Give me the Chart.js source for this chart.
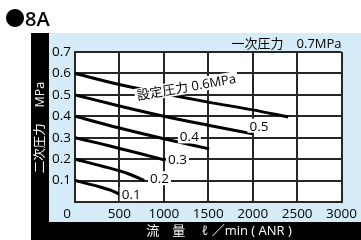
<!DOCTYPE html>
<html><head><meta charset="utf-8">
<script src="https://cdn.jsdelivr.net/npm/chart.js@4/dist/chart.umd.min.js"></script>
<style>html,body{margin:0;padding:0;background:#fff;overflow:hidden}#wrap{width:361px;height:240px;position:relative}</style>
</head><body><div id="wrap"><canvas id="c" width="361" height="240"></canvas></div>
<script>
// ---- data ----
const xTicks = [0, 500, 1000, 1500, 2000, 2500, 3000];
const yTicks = [0, 0.1, 0.2, 0.3, 0.4, 0.5, 0.6, 0.7];
const setPressures = ['0.6', '0.5', '0.4', '0.3', '0.2', '0.1'];

const flow06 = [0, 500, 1000, 1500, 2000, 2400];
const p06    = [0.6, 0.548, 0.505, 0.466, 0.43, 0.397];
const flow05 = [0, 500, 1000, 1500, 2000];
const p05    = [0.5, 0.448, 0.40, 0.358, 0.318];
const flow04 = [0, 500, 1000, 1510];
const p04    = [0.4, 0.345, 0.295, 0.248];
const flow03 = [0, 250, 500, 750, 1020];
const p03    = [0.3, 0.276, 0.25, 0.224, 0.195];
const flow02 = [0, 300, 600, 780];
const p02    = [0.2, 0.168, 0.132, 0.1];
const flow01 = [0, 250, 400, 520];
const p01    = [0.1, 0.074, 0.055, 0.032];

// curve label anchors (data units)
const labelFlow = [1253, 2070, 1287, 1153, 951, 632];
const labelP    = [0.537, 0.356, 0.306, 0.199, 0.111, 0.037];
const labelText = ['設定圧力 0.6MPa', '0.5', '0.4', '0.3', '0.2', '0.1'];

const title = '●8A';
const inletText = '一次圧力　0.7MPa';
const yTitle = '二次圧力　 MPa';
const xTitle = '流　量　 ℓ ／min ( ANR )';

const series = [[flow06, p06], [flow05, p05], [flow04, p04], [flow03, p03], [flow02, p02], [flow01, p01]];

const FONT = '"Open Sans", "Noto Sans CJK JP", sans-serif';
Chart.defaults.font.family = FONT;

const deco = {
  id: 'deco',
  beforeDraw(chart) {
    const ctx = chart.ctx, a = chart.chartArea;
    ctx.save();
    ctx.fillStyle = '#fff'; ctx.fillRect(0, 0, chart.width, chart.height);
    ctx.fillStyle = '#000'; ctx.fillRect(31, 33, chart.width - 31, chart.height - 33);
    ctx.fillStyle = '#d5ebf8'; ctx.fillRect(49, 33, chart.width - 49, 189);
    ctx.fillStyle = '#fff'; ctx.fillRect(a.left, a.top, a.right - a.left, a.bottom - a.top);
    ctx.restore();
  },
  afterDatasetsDraw(chart) {
    const ctx = chart.ctx, xs = chart.scales.x, ys = chart.scales.y;
    ctx.save();
    ctx.textAlign = 'center'; ctx.textBaseline = 'middle';
    labelText.forEach((t, i) => {
      ctx.font = (i === 0 ? '13px ' : '13.5px ') + FONT;
      const px = xs.getPixelForValue(labelFlow[i]), py = ys.getPixelForValue(labelP[i]);
      const w = ctx.measureText(t).width + 4;
      ctx.save();
      ctx.translate(px, py);
      if (i === 0) ctx.rotate(-10 * Math.PI / 180);
      ctx.fillStyle = '#fff'; ctx.fillRect(-w / 2, -7, w, 14);
      ctx.fillStyle = '#000'; ctx.fillText(t, 0, 1);
      ctx.restore();
    });
    ctx.restore();
  },
  afterDraw(chart) {
    const ctx = chart.ctx, a = chart.chartArea;
    ctx.save();
    ctx.fillStyle = '#000';
    ctx.textBaseline = 'middle';
    ctx.textAlign = 'left';
    ctx.font = '600 20px ' + FONT;
    ctx.fillText(title, 5, 20);
    ctx.textAlign = 'right';
    ctx.font = '13px ' + FONT;
    ctx.fillText(inletText, a.right, 44);
    // origin label
    ctx.font = '13.5px ' + FONT;
    ctx.fillText(String(xTicks[0]), a.left - 4, 214);
    // axis titles
    ctx.fillStyle = '#fff';
    ctx.textAlign = 'center';
    ctx.font = '13px ' + FONT;
    ctx.fillText(xTitle, 219, 231);
    ctx.save();
    ctx.translate(40, 127.5);
    ctx.rotate(-Math.PI / 2);
    ctx.font = '12.5px ' + FONT;
    ctx.fillText(yTitle, 0, 0);
    ctx.restore();
    ctx.restore();
  }
};

const gridOpts = { color: '#262626', lineWidth: 2, drawTicks: false };
const borderOpts = { display: true, color: '#262626', width: 2 };

new Chart(document.getElementById('c'), {
  type: 'line',
  data: {
    datasets: series.map((s, i) => ({
      label: setPressures[i],
      data: s[0].map((x, j) => ({ x: x, y: s[1][j] })),
      borderColor: '#000',
      borderWidth: 3,
      pointRadius: 0,
      fill: false,
      cubicInterpolationMode: 'monotone'
    }))
  },
  options: {
    responsive: false,
    animation: false,
    devicePixelRatio: 1,
    layout: { padding: { left: 49, right: 18, top: 52, bottom: 22 } },
    plugins: { legend: { display: false }, tooltip: { enabled: false } },
    scales: {
      x: {
        type: 'linear', min: xTicks[0], max: xTicks[xTicks.length - 1],
        afterBuildTicks: s => { s.ticks = xTicks.map(v => ({ value: v })); },
        ticks: { autoSkip: false, maxRotation: 0, padding: 4, color: '#000', font: { size: 13.5 },
                 callback: v => v === 0 ? '' : String(v) },
        grid: gridOpts, border: borderOpts,
        afterFit: s => { s.height = 16; }
      },
      y: {
        type: 'linear', min: yTicks[0], max: yTicks[yTicks.length - 1],
        afterBuildTicks: s => { s.ticks = yTicks.map(v => ({ value: v })); },
        ticks: { autoSkip: false, padding: 4, color: '#000', font: { size: 13.5 },
                 callback: v => v === 0 ? '' : v.toFixed(1) },
        grid: gridOpts, border: borderOpts,
        afterFit: s => { s.width = 26; }
      }
    }
  },
  plugins: [deco]
});
</script></body></html>
